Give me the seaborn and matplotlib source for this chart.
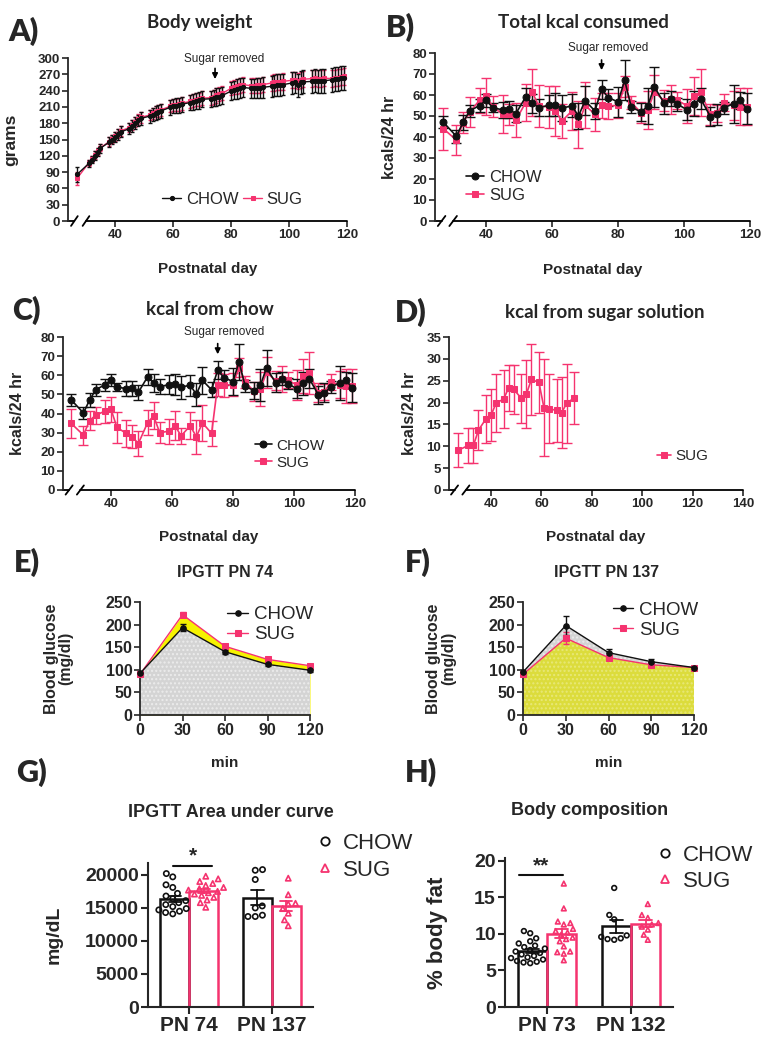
"""
Sugar vs chow rats: body weight, kcal intake, IPGTT and body composition panels.
"""

import numpy as np
import pandas as pd
import matplotlib.pyplot as plt
import seaborn as sns
from matplotlib.lines import Line2D

sns.set_style("ticks")
plt.rcParams['font.family'] = ['Liberation Sans', 'DejaVu Sans']
plt.rcParams['font.weight'] = 'bold'
plt.rcParams['axes.labelweight'] = 'bold'
plt.rcParams['axes.linewidth'] = 1.3

PINK = '#f5336f'
BLACK = '#111111'
TITLE_FONT = ['Lato', 'DejaVu Sans']
W, H = 778, 1050

# ---------------- data ----------------
# A) body weight (weekdays)
days_bw = [27, 31, 32, 33, 34, 35, 38, 39, 40, 41, 42, 45, 46, 47, 48, 49,
           52, 53, 54, 55, 56, 59, 60, 61, 62, 63, 66, 67, 68, 69, 70,
           73, 74, 75, 76, 77, 80, 81, 82, 83, 84, 87, 88, 89, 90, 91,
           94, 95, 96, 97, 98, 101, 102, 103, 104, 105, 108, 109, 110, 111, 112,
           115, 116, 117, 118, 119]
bw_chow = [86, 106, 113, 120, 127, 134, 145, 150, 155, 160, 164, 170, 175, 180, 185, 189,
           193, 196, 199, 201, 203, 209, 211, 212, 213, 215, 218, 219, 221, 222, 224,
           225, 226, 228, 229, 231, 239, 241, 243, 245, 246, 244, 244, 245, 245, 246,
           248, 249, 250, 250, 251, 254, 255, 250, 255, 256, 257, 258, 257, 258, 258,
           260, 261, 262, 263, 264]
bw_chow_err = [14, 7, 7, 8, 8, 8, 9, 9, 9, 10, 10, 10, 11, 11, 11, 12,
               12, 12, 13, 13, 13, 13, 13, 14, 14, 14, 14, 14, 15, 15, 15,
               15, 15, 16, 16, 16, 17, 17, 18, 18, 18, 18, 18, 19, 19, 19,
               19, 19, 20, 20, 20, 20, 20, 21, 21, 21, 21, 21, 21, 22, 22,
               22, 22, 22, 22, 22]
bw_sug = [79, 107, 114, 121, 128, 135, 146, 151, 156, 161, 166, 172, 177, 182, 187, 191,
          195, 198, 201, 203, 205, 211, 213, 214, 215, 217, 220, 221, 223, 224, 226,
          227, 228, 231, 233, 235, 244, 246, 248, 250, 251, 249, 249, 250, 250, 251,
          254, 255, 256, 256, 257, 259, 260, 258, 260, 261, 262, 263, 262, 262, 263,
          262, 263, 264, 265, 266]
bw_sug_err = [12, 6, 6, 7, 7, 7, 8, 8, 8, 8, 9, 9, 9, 9, 10, 10,
              10, 10, 10, 11, 11, 11, 11, 11, 12, 12, 12, 12, 12, 12, 13,
              13, 13, 13, 13, 13, 13, 13, 14, 14, 14, 14, 14, 14, 14, 14,
              15, 15, 15, 15, 15, 15, 15, 15, 15, 15, 15, 15, 15, 15, 15,
              15, 15, 15, 15, 15]

# B) / C) kcal per 24 hr (Mon/Wed/Fri)
days_k = [27, 31, 33, 35, 38, 40, 42, 45, 47, 49, 52, 54, 56, 59, 61, 63, 66, 68, 70, 73,
          75, 77, 80, 82, 84, 87, 89, 91, 94, 96, 98, 101, 103, 105, 108, 110, 112, 115, 117, 119]
tot_chow = [47.1, 40.3, 47.0, 52.4, 55.0, 57.5, 54.0, 52.9, 53.2, 51.1,
            59.1, 56.0, 54.0, 55.1, 55.4, 53.8, 54.8, 50.0, 57.3, 52.4,
            62.8, 58.8, 56.7, 67.0, 54.3, 51.9, 54.8, 63.9, 56.0, 58.3,
            55.6, 52.9, 55.9, 58.3, 49.7, 50.8, 53.8, 55.9, 57.5, 53.5]
tot_chow_err = [3, 3, 3.5, 3, 3, 3, 2, 4, 4, 4, 4, 4.5, 4, 5, 5.5, 6, 5.5, 6, 7, 4,
                4.5, 4, 7, 9.5, 3, 4.5, 8.5, 9.5, 5, 3.5, 3, 5, 6, 5, 4.5, 5, 3, 9, 4, 7.5]
tot_sug = [44.0, 38.5, 46.8, 51.9, 57.5, 59.3, 54.5, 50.8, 50.8, 48.0,
           56.4, 61.2, 54.8, 54.3, 52.4, 47.6, 52.4, 46.0, 55.1, 50.8,
           55.1, 54.8, 55.1, 64.0, 56.4, 51.6, 52.7, 61.5, 57.2, 58.0,
           57.5, 54.8, 59.6, 61.2, 50.8, 51.3, 56.4, 55.1, 54.5, 54.5]
tot_sug_err = [10, 7, 5, 7, 6, 9, 5, 9, 5, 8, 9, 11, 10, 10, 12, 8, 9, 11, 11, 8,
               6, 6, 6, 5, 3, 5, 9, 8, 5, 7, 4, 8, 9, 11, 5, 4, 4, 7, 9, 9]
chow_sug = [34.8, 28.7, 36.3, 39.1, 41.2, 42.3, 32.7, 29.6, 27.8, 24.3,
            35.1, 38.8, 29.9, 30.8, 33.6, 28.3, 33.6, 27.8, 35.1, 29.6,
            55.1, 54.8, 55.1, 64.0, 56.4, 51.6, 52.7, 61.5, 57.2, 58.0,
            57.5, 54.8, 59.6, 61.2, 50.8, 51.3, 56.4, 55.1, 54.5, 54.5]
chow_sug_err = [7.5, 5, 5, 4.5, 6, 6.5, 8, 7, 6, 6.5, 6.5, 7, 5.5, 6.5, 7.5, 4, 7, 9, 9.5, 6.5,
                6, 6, 6, 5, 3, 5, 9, 8, 5, 7, 4, 8, 9, 11, 5, 4, 4, 7, 9, 9]

# D) kcal from sugar solution
days_sugar = [27, 31, 33, 35, 38, 40, 42, 45, 47, 49, 52, 54, 56, 59, 61, 63, 66, 68, 70, 73]
sugar_sug = [9.1, 10.2, 10.2, 13.7, 16.3, 17.1, 19.9, 20.8, 23.4, 23.0,
             21.0, 21.9, 25.3, 24.6, 18.8, 18.6, 18.2, 17.7, 19.8, 21.1]
sugar_sug_err = [3.9, 4.0, 4.0, 4.6, 5.5, 6.0, 6.7, 6.6, 5.3, 5.7,
                 5.6, 7.8, 8.2, 7.0, 11.1, 7.9, 7.3, 8.2, 9.1, 5.9]

# E) / F) IPGTT
ipgtt_min = [0, 30, 60, 90, 120]
pn74_chow = [92, 193, 140, 112, 99]
pn74_chow_err = [3, 8, 4, 4, 3]
pn74_sug = [90, 222, 152, 123, 109]
pn74_sug_err = [3, 6, 4, 4, 3]
pn137_chow = [95, 198, 138, 118, 105]
pn137_chow_err = [3, 22, 8, 5, 3]
pn137_sug = [90, 170, 127, 111, 105]
pn137_sug_err = [3, 13, 6, 4, 3]

# G) IPGTT AUC (mg/dL)
auc_pn74_chow = [20200, 19700, 18500, 18100, 17200, 16800, 16400, 16100,
                 15800, 15500, 15200, 14900, 14700, 14500, 14300, 14100]
auc_pn74_sug = [19800, 19400, 19000, 18700, 18400, 18100, 17900, 17700,
                17500, 17300, 17100, 16900, 16600, 16200, 15800, 15100]
auc_pn137_chow = [20800, 20700, 19300, 15300, 15000, 13700, 13700, 13900]
auc_pn137_sug = [19500, 17000, 15700, 15600, 14900, 14200, 13200, 12300]

# H) % body fat
fat_pn73_chow = [10.4, 10.1, 9.4, 9.0, 8.7, 8.4, 8.2, 8.0, 7.8, 7.6,
                 7.4, 7.2, 7.0, 6.8, 6.7, 6.5, 6.3, 6.2, 6.1, 6.0]
fat_pn73_sug = [16.9, 13.5, 11.7, 11.5, 11.3, 10.7, 10.4, 10.2, 9.9,
                9.5, 9.3, 9.0, 8.3, 7.6, 7.5, 7.3, 6.4]
fat_pn132_chow = [16.3, 12.6, 12.0, 9.8, 9.6, 9.4, 9.3, 9.2]
fat_pn132_sug = [14.1, 12.6, 12.2, 11.5, 11.3, 11.0, 10.6, 9.9, 9.2]

groups = ['CHOW', 'SUG']
palette = {'CHOW': BLACK, 'SUG': PINK}


# ---------------- helpers ----------------
def px_axes(fig, left, top, right, bottom):
    return fig.add_axes([left / W, 1 - bottom / H, (right - left) / W, (bottom - top) / H])


def series(ax, x, y, err, color, marker, ms, cap, lw, label):
    ax.errorbar(x, y, yerr=err, fmt='none', ecolor=color, elinewidth=1,
                capsize=cap, capthick=1, zorder=2, clip_on=False)
    sns.lineplot(x=x, y=y, color=color, marker=marker, markersize=ms,
                 markeredgecolor=color, linewidth=lw, label=label,
                 errorbar=None, ax=ax, zorder=3, clip_on=False)


def break_axis(ax, lo, hi):
    ax.spines['bottom'].set_visible(False)
    tr = ax.get_xaxis_transform()
    x0, x1 = ax.get_xlim()
    kw = dict(transform=tr, color='black', lw=1.3, clip_on=False)
    ax.plot([x0, lo], [0, 0], **kw)
    ax.plot([hi, x1], [0, 0], **kw)
    d = (x1 - x0) * 0.012
    for gx in (lo, hi):
        ax.plot([gx - d, gx + d], [-0.03, 0.03], **kw)


def sugar_removed(ax, x, tip, tail, ytext, dx):
    ax.annotate('', xy=(x, tip), xytext=(x, tail), annotation_clip=False,
                arrowprops=dict(arrowstyle='-|>', color='black', lw=1.2, mutation_scale=8))
    ax.text(x + dx, ytext, 'Sugar removed', ha='center', va='center',
            fontsize=8.5, fontweight='normal', clip_on=False)


def finish(ax, size, length=4, width=1.2):
    sns.despine(ax=ax)
    ax.tick_params(labelsize=size, length=length, width=width, pad=1.5)
    for lab in ax.get_xticklabels() + ax.get_yticklabels():
        lab.set_fontweight('bold')


def legend(ax, anchor, loc, size, ncol=1, **kw):
    handles, labels = ax.get_legend_handles_labels()
    order = [labels.index(g) for g in groups if g in labels]
    ax.legend([handles[i] for i in order], [labels[i] for i in order],
              loc=loc, bbox_to_anchor=anchor, ncol=ncol, frameon=False,
              prop={'size': size, 'weight': 'normal'}, **kw)


def bar_panel(ax, values, cats, width, dot_size):
    rows = []
    for (cat, grp), vals in values.items():
        rows += [{'cat': cat, 'group': grp, 'val': v} for v in vals]
    df = pd.DataFrame(rows)
    sns.barplot(data=df, x='cat', y='val', hue='group', order=cats, hue_order=groups,
                palette=palette, saturation=1, fill=False, errorbar='se', capsize=0.3,
                width=width, linewidth=1.8, err_kws={'linewidth': 1.3}, legend=False, ax=ax)
    for grp, marker in zip(groups, ['o', '^']):
        n0 = len(ax.collections)
        sns.swarmplot(data=df[df.group == grp], x='cat', y='val', hue='group', order=cats,
                      hue_order=groups, palette=palette, dodge=True, marker=marker,
                      size=dot_size, legend=False, ax=ax, warn_thresh=1)
        for coll in ax.collections[n0:]:
            coll.set_facecolor('none')
            coll.set_edgecolor(palette[grp])
            coll.set_linewidth(1.2)
    ax.set_xlabel('')
    ax.set_xlim(-0.5, 1.5)


def group_legend(ax, anchor):
    handles = [Line2D([], [], ls='none', marker='o', ms=6, mfc='none', mec=BLACK, mew=1.3),
               Line2D([], [], ls='none', marker='^', ms=6, mfc='none', mec=PINK, mew=1.3)]
    ax.legend(handles, groups, loc='upper left', bbox_to_anchor=anchor, frameon=False,
              prop={'size': 16, 'weight': 'normal'}, handletextpad=0.2, labelspacing=0.25,
              borderaxespad=0, handlelength=1.2)


def panel_text(fig, x, y, s):
    fig.text(x / W, 1 - y / H, s, fontsize=22, fontweight='heavy', family=TITLE_FONT,
             ha='left', va='center')


# ---------------- figure ----------------
fig = plt.figure(figsize=(W / 100, H / 100), dpi=100)

# A) Body weight
ax = px_axes(fig, 68, 58, 347, 221)
series(ax, days_bw, bw_sug, bw_sug_err, PINK, 's', 3, 1.5, 1, 'SUG')
series(ax, days_bw, bw_chow, bw_chow_err, BLACK, 'o', 3, 1.5, 1, 'CHOW')
ax.set_xlim(23.8, 120)
ax.set_ylim(0, 300)
ax.set_xticks([40, 60, 80, 100, 120])
ax.set_yticks(range(0, 301, 30))
finish(ax, 9.5)
break_axis(ax, 26, 30)
sugar_removed(ax, 74.5, 256, 286, 298, 3)
ax.set_ylabel('grams', fontsize=12.5)
ax.yaxis.set_label_coords(-0.18, 0.5)
ax.set_xlabel('Postnatal day', fontsize=11)
ax.xaxis.set_label_coords(0.5, -0.25)
ax.text(0.473, 1.215, 'Body weight', transform=ax.transAxes, ha='center', va='center',
        fontsize=13.5, family=TITLE_FONT, fontweight='bold')
legend(ax, (0.59, 0.13), 'center', 12, ncol=2, handlelength=1.1, columnspacing=0.3,
       handletextpad=0.3)

# B) Total kcal consumed
ax = px_axes(fig, 435, 53, 750, 221)
series(ax, days_k, tot_sug, tot_sug_err, PINK, 's', 5, 3.5, 1.2, 'SUG')
series(ax, days_k, tot_chow, tot_chow_err, BLACK, 'o', 5, 3.5, 1.2, 'CHOW')
ax.set_xlim(24.5, 120)
ax.set_ylim(0, 80)
ax.set_xticks([40, 60, 80, 100, 120])
ax.set_yticks(range(0, 81, 10))
finish(ax, 9.5)
break_axis(ax, 26.5, 30)
sugar_removed(ax, 75, 70.5, 78, 82.4, 2)
ax.set_ylabel('kcals/24 hr', fontsize=11.5)
ax.yaxis.set_label_coords(-0.12, 0.5)
ax.set_xlabel('Postnatal day', fontsize=11)
ax.xaxis.set_label_coords(0.5, -0.25)
ax.text(0.47, 1.18, 'Total kcal consumed', transform=ax.transAxes, ha='center',
        va='center', fontsize=13.5, family=TITLE_FONT, fontweight='bold')
legend(ax, (0.05, 0.205), 'center left', 12, handlelength=1.1, handletextpad=0.3,
       labelspacing=0.2)

# C) kcal from chow
ax = px_axes(fig, 63, 337, 355, 490)
series(ax, days_k, chow_sug, chow_sug_err, PINK, 's', 5, 3.5, 1.2, 'SUG')
series(ax, days_k, tot_chow, tot_chow_err, BLACK, 'o', 5, 3.5, 1.2, 'CHOW')
ax.set_xlim(24.3, 120)
ax.set_ylim(0, 80)
ax.set_xticks([40, 60, 80, 100, 120])
ax.set_yticks(range(0, 81, 10))
finish(ax, 9.5)
break_axis(ax, 26.3, 30)
sugar_removed(ax, 75, 69.5, 78, 82.6, 2)
ax.set_ylabel('kcals/24 hr', fontsize=11.5)
ax.yaxis.set_label_coords(-0.13, 0.5)
ax.set_xlabel('Postnatal day', fontsize=11)
ax.xaxis.set_label_coords(0.5, -0.26)
ax.text(0.503, 1.183, 'kcal from chow', transform=ax.transAxes, ha='center',
        va='center', fontsize=13.5, family=TITLE_FONT, fontweight='bold')
legend(ax, (0.61, 0.235), 'center left', 11, handlelength=1.1, handletextpad=0.3,
       labelspacing=0.2)

# D) kcal from sugar solution
ax = px_axes(fig, 449, 337, 743, 490)
series(ax, days_sugar, sugar_sug, sugar_sug_err, PINK, 's', 5, 3.5, 1.2, 'SUG')
ax.set_xlim(23.3, 140)
ax.set_ylim(0, 35)
ax.set_xticks([40, 60, 80, 100, 120, 140])
ax.set_yticks(range(0, 36, 5))
finish(ax, 9.5)
break_axis(ax, 25.5, 30)
ax.set_ylabel('kcals/24 hr', fontsize=11.5)
ax.yaxis.set_label_coords(-0.11, 0.5)
ax.set_xlabel('Postnatal day', fontsize=11)
ax.xaxis.set_label_coords(0.5, -0.26)
ax.text(0.53, 1.163, 'kcal from sugar solution', transform=ax.transAxes, ha='center',
        va='center', fontsize=13.5, family=TITLE_FONT, fontweight='bold')
legend(ax, (0.66, 0.22), 'center left', 11, handlelength=0.9, handletextpad=0.3)


# E) / F) IPGTT
def ipgtt(ax, chow, chow_err, sug, sug_err, chow_on_top, title, title_x):
    gray = dict(facecolor='#d4d4d4', edgecolor='#ececec', hatch='....', linewidth=0)
    if chow_on_top:
        yellow = dict(facecolor='#dcdc3c', edgecolor='#e8e878', hatch='....', linewidth=0)
        ax.fill_between(ipgtt_min, chow, zorder=1, **gray)
        ax.fill_between(ipgtt_min, sug, zorder=1.2, **yellow)
    else:
        yellow = dict(facecolor='#f6f200', linewidth=0)
        ax.fill_between(ipgtt_min, sug, zorder=1, **yellow)
        ax.fill_between(ipgtt_min, chow, zorder=1.2, **gray)
    series(ax, ipgtt_min, sug, sug_err, PINK, 's', 4, 2, 1, 'SUG')
    series(ax, ipgtt_min, chow, chow_err, BLACK, 'o', 4, 2, 1, 'CHOW')
    ax.set_xlim(0, 120)
    ax.set_ylim(0, 250)
    ax.set_xticks(ipgtt_min)
    ax.set_yticks(range(0, 251, 50))
    finish(ax, 11.5)
    ax.set_ylabel('Blood glucose\n(mg/dl)', fontsize=11.5, linespacing=1.0)
    ax.yaxis.set_label_coords(-0.39, 0.5)
    ax.set_xlabel('min', fontsize=11)
    ax.xaxis.set_label_coords(0.5, -0.36)
    ax.text(title_x, 1.265, title, transform=ax.transAxes, ha='center', va='center',
            fontsize=11.5, fontweight='bold')


ax = px_axes(fig, 140, 602, 310, 715)
ipgtt(ax, pn74_chow, pn74_chow_err, pn74_sug, pn74_sug_err, False, 'IPGTT PN 74', 0.5)
legend(ax, (0.47, 1.03), 'upper left', 13.5, handlelength=1.1, handletextpad=0.3,
       labelspacing=0.15, borderaxespad=0)

ax = px_axes(fig, 523, 602, 694, 715)
ipgtt(ax, pn137_chow, pn137_chow_err, pn137_sug, pn137_sug_err, True, 'IPGTT PN 137', 0.49)
legend(ax, (0.48, 1.07), 'upper left', 13.5, handlelength=1.1, handletextpad=0.3,
       labelspacing=0.15, borderaxespad=0)

# G) IPGTT AUC
ax = px_axes(fig, 148, 863, 313, 1007)
auc = {('PN 74', 'CHOW'): auc_pn74_chow, ('PN 74', 'SUG'): auc_pn74_sug,
       ('PN 137', 'CHOW'): auc_pn137_chow, ('PN 137', 'SUG'): auc_pn137_sug}
bar_panel(ax, auc, ['PN 74', 'PN 137'], 0.7, 3.8)
ax.set_ylim(0, 21800)
ax.set_yticks([0, 5000, 10000, 15000, 20000])
finish(ax, 14, length=5, width=1.5)
ax.tick_params(axis='x', labelsize=15)
for s in ax.spines.values():
    s.set_linewidth(1.5)
ax.set_ylabel('mg/dL', fontsize=14)
ax.yaxis.set_label_coords(-0.515, 0.5)
ax.plot([-0.2, 0.28], [21400, 21400], color=BLACK, lw=1.5, clip_on=False)
ax.text(0.04, 22900, '*', ha='center', va='center', fontsize=15, clip_on=False)
ax.text(0.503, 1.354, 'IPGTT Area under curve', transform=ax.transAxes, ha='center',
        va='center', fontsize=13)
group_legend(ax, (0.94, 1.27))

# H) Body composition
ax = px_axes(fig, 505, 858, 673, 1007)
fat = {('PN 73', 'CHOW'): fat_pn73_chow, ('PN 73', 'SUG'): fat_pn73_sug,
       ('PN 132', 'CHOW'): fat_pn132_chow, ('PN 132', 'SUG'): fat_pn132_sug}
bar_panel(ax, fat, ['PN 73', 'PN 132'], 0.7, 3.4)
ax.set_ylim(0, 20.4)
ax.set_yticks([0, 5, 10, 15, 20])
finish(ax, 14, length=5, width=1.5)
ax.tick_params(axis='x', labelsize=15)
for s in ax.spines.values():
    s.set_linewidth(1.5)
ax.set_ylabel('% body fat', fontsize=16)
ax.yaxis.set_label_coords(-0.34, 0.5)
ax.plot([-0.33, 0.19], [18.1, 18.1], color=BLACK, lw=1.5, clip_on=False)
ax.text(-0.07, 19.3, '**', ha='center', va='center', fontsize=15, clip_on=False)
ax.text(0.506, 1.322, 'Body composition', transform=ax.transAxes, ha='center',
        va='center', fontsize=13)
group_legend(ax, (0.82, 1.15))

# panel letters
panel_text(fig, 8, 31, 'A)')
panel_text(fig, 386, 27, 'B)')
panel_text(fig, 12, 310, 'C)')
panel_text(fig, 395, 312, 'D)')
panel_text(fig, 14, 562, 'E)')
panel_text(fig, 405, 562, 'F)')
panel_text(fig, 16, 772, 'G)')
panel_text(fig, 405, 772, 'H)')

fig.savefig('out.png', dpi=100)
